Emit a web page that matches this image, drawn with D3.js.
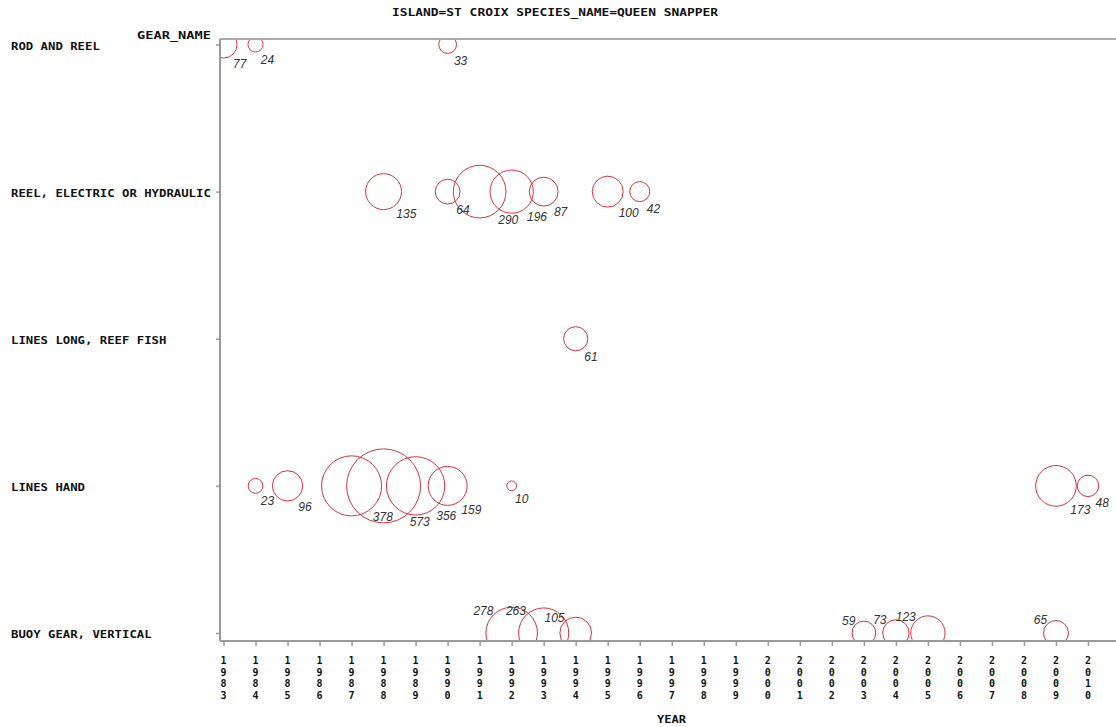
<!DOCTYPE html>
<html><head><meta charset="utf-8">
<script src="https://cdn.jsdelivr.net/npm/d3@7"></script>
<style>
html,body{margin:0;padding:0;background:#fff;}
svg{display:block;}
.mono{font-family:"DejaVu Sans Mono",monospace;font-weight:bold;fill:#111;}
.val{font-family:"Liberation Sans",Arial,sans-serif;font-style:italic;font-size:12px;fill:#333;}
</style>
</head><body>
<svg id="chart" width="1116" height="727"></svg>
<script>
const title = "ISLAND=ST CROIX SPECIES_NAME=QUEEN SNAPPER";
const gears = ["ROD AND REEL", "REEL, ELECTRIC OR HYDRAULIC", "LINES LONG, REEF FISH", "LINES HAND", "BUOY GEAR, VERTICAL"];
const tickYears = d3.range(1983, 2012);
const labelYears = d3.range(1983, 2011);
// observations
const obsGear = [
  "ROD AND REEL","ROD AND REEL","ROD AND REEL",
  "REEL, ELECTRIC OR HYDRAULIC","REEL, ELECTRIC OR HYDRAULIC","REEL, ELECTRIC OR HYDRAULIC","REEL, ELECTRIC OR HYDRAULIC","REEL, ELECTRIC OR HYDRAULIC","REEL, ELECTRIC OR HYDRAULIC","REEL, ELECTRIC OR HYDRAULIC",
  "LINES LONG, REEF FISH",
  "LINES HAND","LINES HAND","LINES HAND","LINES HAND","LINES HAND","LINES HAND","LINES HAND","LINES HAND","LINES HAND",
  "BUOY GEAR, VERTICAL","BUOY GEAR, VERTICAL","BUOY GEAR, VERTICAL","BUOY GEAR, VERTICAL","BUOY GEAR, VERTICAL","BUOY GEAR, VERTICAL","BUOY GEAR, VERTICAL"
];
const obsYear = [
  1983,1984,1990,
  1988,1990,1991,1992,1993,1995,1996,
  1994,
  1984,1985,1987,1988,1989,1990,1992,2009,2010,
  1992,1993,1994,2003,2004,2005,2009
];
const obsCount = [
  77,24,33,
  135,64,290,196,87,100,42,
  61,
  23,96,378,573,356,159,10,173,48,
  278,263,105,59,73,123,65
];
const data = obsGear.map((g,i)=>({gear:g, year:obsYear[i], count:obsCount[i]}));

const svg = d3.select("#chart");
const pLeft = 220, pRight = 1116, pTop = 39, pBottom = 641;

const x = d3.scaleLinear().domain([1983, 2010]).range([223.5, 1088]);
const y = d3.scalePoint().domain(gears).range([44.5, 633]);
const r = d3.scaleSqrt().domain([0, 573]).range([0, 37]);

// title
svg.append("text").attr("class","mono").attr("x",392).attr("y",16)
  .attr("font-size",10).attr("textLength",326).attr("lengthAdjust","spacingAndGlyphs").text(title);
svg.append("text").attr("class","mono").attr("x",137).attr("y",39)
  .attr("font-size",10).attr("textLength",74).attr("lengthAdjust","spacingAndGlyphs").text("GEAR_NAME");
svg.append("text").attr("class","mono").attr("x",657).attr("y",723)
  .attr("font-size",10).attr("textLength",29).attr("lengthAdjust","spacingAndGlyphs").text("YEAR");

// bubbles (clipped to plot)
svg.append("clipPath").attr("id","clip").append("rect")
  .attr("x",pLeft).attr("y",pTop).attr("width",1200-pLeft).attr("height",pBottom-pTop);
const g = svg.append("g").attr("clip-path","url(#clip)");
g.selectAll("circle").data(data).join("circle")
  .attr("cx",d=>x(d.year)).attr("cy",d=>y(d.gear)).attr("r",d=>r(d.count))
  .attr("fill","none").attr("stroke","#d8323c").attr("stroke-width",1);

// axes lines
const axisColor = "#9a9a9a";
svg.append("line").attr("x1",pLeft).attr("x2",pRight).attr("y1",pTop).attr("y2",pTop)
  .attr("stroke","#aaa").attr("stroke-width",2);
svg.append("line").attr("x1",pLeft).attr("x2",pLeft).attr("y1",pTop).attr("y2",pBottom)
  .attr("stroke",axisColor).attr("stroke-width",2);

// x axis
const xAxis = d3.axisBottom(x).tickValues(tickYears).tickSize(5).tickFormat("");
const gx = svg.append("g").attr("transform",`translate(0,${pBottom})`).call(xAxis);
gx.select(".domain").remove();
gx.selectAll(".tick line").attr("stroke",axisColor).attr("stroke-width",1.5);
svg.append("line").attr("x1",pLeft).attr("x2",pRight+10).attr("y1",pBottom).attr("y2",pBottom)
  .attr("stroke",axisColor).attr("stroke-width",2);
// stacked digit labels
labelYears.forEach(yr=>{
  const s = String(yr);
  for(let i=0;i<s.length;i++){
    svg.append("text").attr("class","mono").attr("font-size",10)
      .attr("x",x(yr)).attr("y",664+i*11.5).attr("text-anchor","middle").text(s[i]);
  }
});

// y axis
const yAxis = d3.axisLeft(y).tickSize(4).tickFormat("");
const gy = svg.append("g").attr("transform",`translate(${pLeft},0)`).call(yAxis);
gy.select(".domain").remove();
gy.selectAll(".tick line").attr("stroke",axisColor).attr("stroke-width",1.5);
gears.forEach(gn=>{
  svg.append("text").attr("class","mono").attr("font-size",10)
    .attr("x",11).attr("y",y(gn)+5)
    .attr("textLength",gn.length*7.4).attr("lengthAdjust","spacingAndGlyphs").text(gn);
});

// value labels
const lastGear = gears[gears.length-1];
svg.selectAll("text.val").data(data).join("text").attr("class","val")
  .attr("x",d=>{const o=r(d.count)*0.707; return d.gear===lastGear ? x(d.year)-o : x(d.year)+o;})
  .attr("y",d=>{const o=r(d.count)*0.707; return d.gear===lastGear ? y(d.gear)-o : y(d.gear)+o+14;})
  .attr("text-anchor",d=>d.gear===lastGear?"end":"start")
  .text(d=>d.count);
</script>
</body></html>
